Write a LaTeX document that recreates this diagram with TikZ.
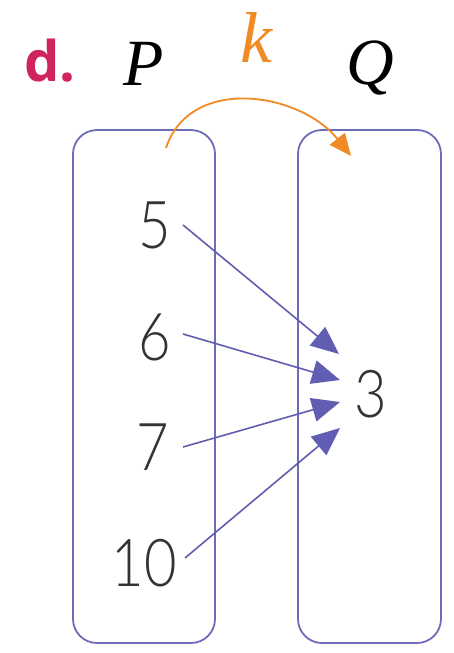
\documentclass[tikz,border=0pt]{standalone}
\usepackage{fontspec}
\usepackage{graphicx}
\setmainfont{Liberation Serif}
\newfontfamily\digitfont{Lato}[UprightFont={* Light}]
\newfontfamily\labelfont{Open Sans}
\usetikzlibrary{arrows.meta}
\definecolor{boxc}{HTML}{6E6CB8}
\definecolor{arrc}{HTML}{615DB3}
\definecolor{orc}{HTML}{F08A24}
\definecolor{redc}{HTML}{D0245E}
\begin{document}
\begin{tikzpicture}[x=1pt,y=-1pt,
  setbox/.style={draw=boxc,line width=1.8pt,rounded corners=24pt},
  num/.style={font=\digitfont\fontsize{66}{66}\selectfont,text=black!80,inner sep=8pt},
  maparrow/.style={draw=arrc,line width=1.6pt,-{Triangle[length=28pt,width=24pt]}},
  karrow/.style={draw=orc,line width=1.8pt,-{Triangle[length=22pt,width=19pt]}},
  setlabel/.style={font=\itshape\fontsize{66}{66}\selectfont,text=black}]
\useasboundingbox (0,0) rectangle (454,653);
\fill[white] (0,0) rectangle (454,653);
% sets
\draw[setbox] (73,130) rectangle (215,643);
\draw[setbox] (298,130) rectangle (441,643);
% labels
\node[font=\labelfont\bfseries\fontsize{56}{56}\selectfont,text=redc] (d) at (50,61) {d.};
\node[setlabel] (P) at (144,64) {P};
\node[setlabel] (Q) at (370,68) {Q};
\node[setlabel,text=orc,font=\itshape\fontsize{72}{72}\selectfont] (k) at (256,38) {k};
% elements
\node[num] (n5) at (155,225) {\scalebox{0.85}[1]{5}};
\node[num] (n6) at (155,337) {\scalebox{0.85}[1]{6}};
\node[num] (n7) at (153,447) {\scalebox{0.85}[1]{7}};
\node[num] (n10) at (144,563) {\scalebox{0.85}[1]{10}};
\node[num] (n3) at (371,394) {\scalebox{0.85}[1]{3}};
% arrow tips
\coordinate (t1) at (339,354);
\coordinate (t2) at (340,380);
\coordinate (t3) at (340,402);
\coordinate (t4) at (340,428);
\coordinate (s5) at (183,225);
\coordinate (s6) at (183,334);
\coordinate (s7) at (183,447);
\coordinate (s10) at (185,558);
\draw[maparrow] (s5) -- (t1);
\draw[maparrow] (s6) -- (t2);
\draw[maparrow] (s7) -- (t3);
\draw[maparrow] (s10) -- (t4);
% k arrow
\coordinate (ks) at (166,148);
\coordinate (ke) at (351,156);
\draw[karrow] (ks) .. controls (190,75) and (300,92) .. (ke);
\end{tikzpicture}
\end{document}
